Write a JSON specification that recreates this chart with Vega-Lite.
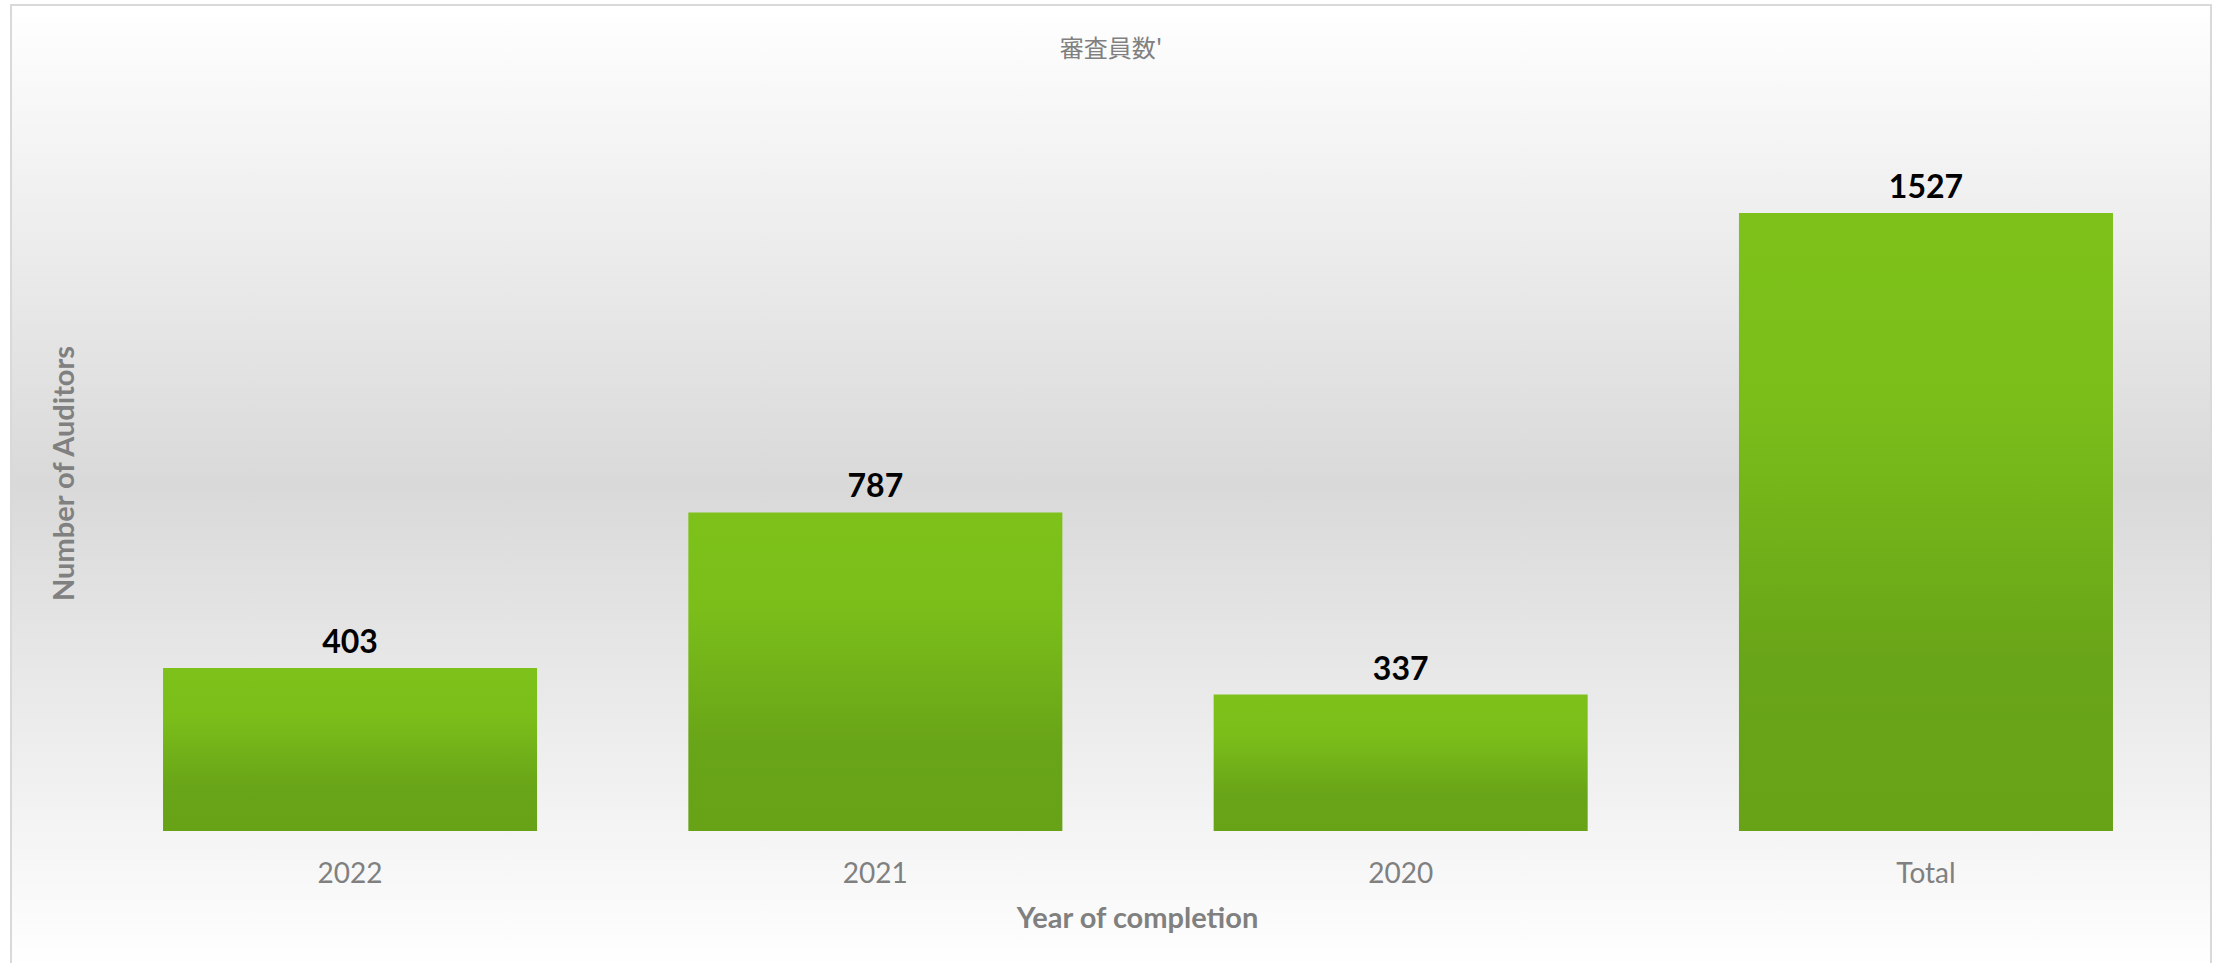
{
  "$schema": "https://vega.github.io/schema/vega-lite/v6.json",
  "width": 2200,
  "height": 964,
  "autosize": "none",
  "padding": {"left": 11, "top": 5, "right": 20, "bottom": -6},
  "background": "#ffffff",
  "title": {
    "text": "審査員数'",
    "font": "Noto Sans CJK JP",
    "fontSize": 24,
    "fontWeight": "normal",
    "color": "#808080",
    "anchor": "middle",
    "frame": "group",
    "offset": -57
  },
  "data": {
    "values": [
      {"year": "2022", "auditors": 403},
      {"year": "2021", "auditors": 787},
      {"year": "2020", "auditors": 337},
      {"year": "Total", "auditors": 1527}
    ]
  },
  "encoding": {
    "x": {
      "field": "year",
      "type": "nominal",
      "sort": null,
      "scale": {"paddingInner": 0.288, "paddingOuter": 0.238, "align": 0.608},
      "axis": {
        "title": "Year of completion",
        "labelAngle": 0,
        "ticks": false,
        "tickSize": 0,
        "domain": false,
        "grid": false,
        "offset": -138,
        "labelFont": "Lato",
        "labelFontSize": 28,
        "labelColor": "#808080",
        "labelPadding": 29,
        "titleFont": "Lato",
        "titleFontSize": 29,
        "titleFontWeight": "bold",
        "titleColor": "#808080",
        "titlePadding": 16,
        "titleX": 1126
      }
    },
    "y": {
      "field": "auditors",
      "type": "quantitative",
      "scale": {"domain": [-341.0, 2040.9], "nice": false, "zero": false},
      "axis": {
        "title": "Number of Auditors",
        "labels": false,
        "ticks": false,
        "tickSize": 0,
        "domain": false,
        "grid": false,
        "offset": -62,
        "titleFont": "Lato",
        "titleFontSize": 29,
        "titleFontWeight": "bold",
        "titleColor": "#808080",
        "titleBaseline": "alphabetic",
        "titlePadding": 0,
        "titleY": 468
      }
    }
  },
  "layer": [
    {
      "mark": {
        "type": "bar",
        "color": {
          "gradient": "linear",
          "x1": 0, "y1": 0, "x2": 0, "y2": 1,
          "stops": [
            {"offset": 0, "color": "#7DC11A"},
            {"offset": 0.3, "color": "#7BBE1A"},
            {"offset": 0.72, "color": "#69A518"},
            {"offset": 1, "color": "#67A217"}
          ]
        }
      },
      "encoding": {"y2": {"datum": 0}}
    },
    {
      "mark": {
        "type": "text",
        "font": "Lato",
        "fontWeight": "bold",
        "fontSize": 32,
        "baseline": "alphabetic",
        "dy": -15,
        "color": "#000000"
      },
      "encoding": {"text": {"field": "auditors", "type": "quantitative"}}
    }
  ],
  "config": {
    "view": {
      "fill": {
        "gradient": "linear",
        "x1": 0, "y1": 0, "x2": 0, "y2": 1,
        "stops": [
          {"offset": 0, "color": "#ffffff"},
          {"offset": 0.497, "color": "#d9d9d9"},
          {"offset": 1, "color": "#ffffff"}
        ]
      },
      "stroke": "#d9d9d9",
      "strokeWidth": 2
    }
  }
}
